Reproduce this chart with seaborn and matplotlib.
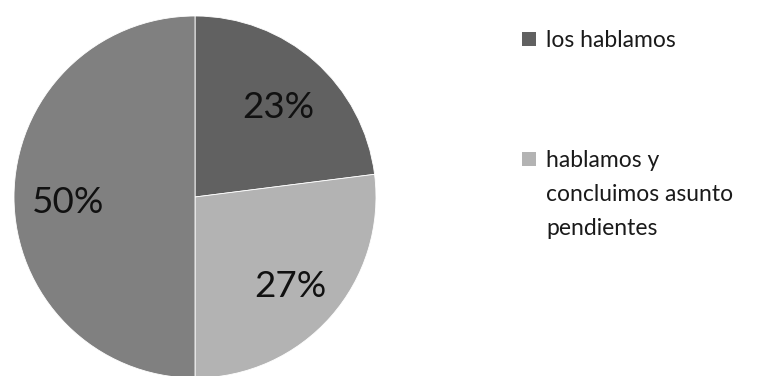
import matplotlib
matplotlib.use("Agg")
import matplotlib.pyplot as plt
from matplotlib.patches import Rectangle
from matplotlib.transforms import offset_copy
import seaborn as sns

sns.set_theme(style="white")
plt.rcParams["font.family"] = ["Lato", "DejaVu Sans"]

categories = ["los hablamos", "hablamos y\nconcluimos asunto\npendientes", "otros"]
shares = [23, 27, 50]
colors = ["#616161", "#b3b3b3", "#808080"]

fig = plt.figure(figsize=(7.77, 3.76), dpi=100)
W, H = 777, 376

# pie area: a square of 362 px, centred at (195, 197) from the top-left corner
ax = fig.add_axes([14 / W, (H - 378) / H, 362 / W, 362 / H])
wedges, texts, autotexts = ax.pie(
    shares,
    colors=colors,
    startangle=90,
    counterclock=False,
    autopct=lambda p: f"{p:.0f}%",
    pctdistance=0.7,
    wedgeprops=dict(edgecolor="white", linewidth=0.6),
    textprops=dict(fontsize=26.5, color="#111111"),
)
for t in autotexts:
    t.set_transform(offset_copy(t.get_transform(), fig=fig, x=0, y=-6, units="dots"))
ax.set_xlim(-1, 1)
ax.set_ylim(-1, 1)
ax.set_aspect("equal")
ax.axis("off")

# legend: only the first two entries fit in the frame
line_step = 34
legend_rows = [(0, 47), (1, 167)]
sq = 14
for idx, baseline in legend_rows:
    fig.patches.append(Rectangle((522 / W, (H - baseline + 1) / H), sq / W, sq / H,
                                 transform=fig.transFigure, facecolor=colors[idx],
                                 edgecolor="none"))
    for k, line in enumerate(categories[idx].split("\n")):
        fig.text(546 / W, (H - baseline - k * line_step) / H, line, fontsize=16.5,
                 color="#1a1a1a", va="baseline", ha="left")

fig.savefig("out.png", dpi=100)
